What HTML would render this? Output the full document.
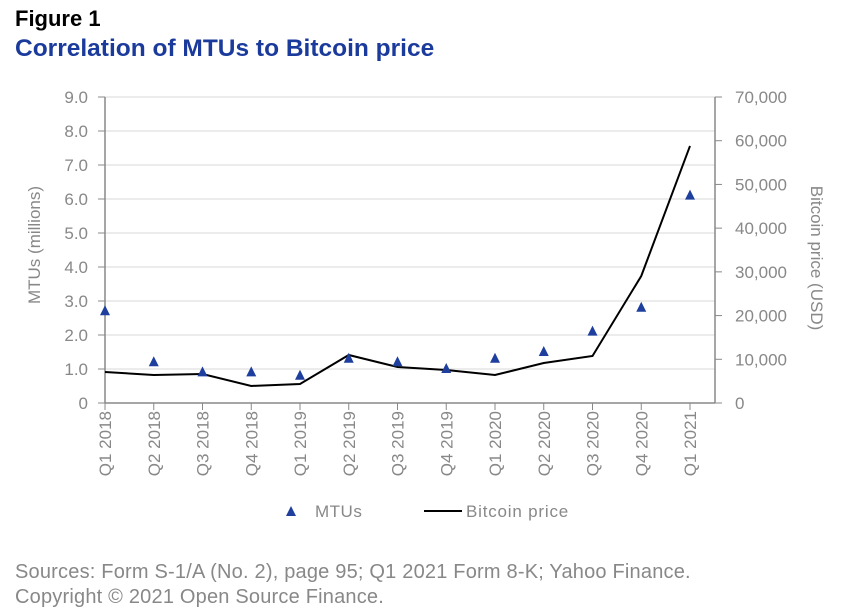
<!DOCTYPE html>
<html><head><meta charset="utf-8"><style>
body{margin:0;background:#fff;width:852px;height:615px;overflow:hidden;font-family:"Liberation Sans",sans-serif}
.t{position:absolute;left:15px;margin:0}
</style></head><body>
<div class="t" style="top:6px;font-size:22px;font-weight:bold;color:#000">Figure 1</div>
<div class="t" style="top:35px;font-size:24.5px;font-weight:bold;color:#1a3a9c">Correlation of MTUs to Bitcoin price</div>
<div class="t" style="top:560px;font-size:20px;color:#888;line-height:25px;letter-spacing:0.2px">Sources: Form S-1/A (No. 2), page 95; Q1 2021 Form 8-K; Yahoo Finance.<br>Copyright © 2021 Open Source Finance.</div>
<svg id="c" width="852" height="615" style="position:absolute;left:0;top:0" font-family="Liberation Sans, sans-serif"></svg>
<script>
const categories=["Q1 2018","Q2 2018","Q3 2018","Q4 2018","Q1 2019","Q2 2019","Q3 2019","Q4 2019","Q1 2020","Q2 2020","Q3 2020","Q4 2020","Q1 2021"];
const mtus=[2.7,1.2,0.9,0.9,0.8,1.3,1.2,1.0,1.3,1.5,2.1,2.8,6.1];
const bitcoin=[7090,6400,6630,3900,4350,10980,8240,7550,6400,9150,10750,29050,58800];
const leftTicks=["0","1.0","2.0","3.0","4.0","5.0","6.0","7.0","8.0","9.0"];
const rightTicks=["0","10,000","20,000","30,000","40,000","50,000","60,000","70,000"];
const svg=document.getElementById('c');const NS="http://www.w3.org/2000/svg";
function mk(t,a,txt){const e=document.createElementNS(NS,t);for(const k in a)e.setAttribute(k,a[k]);if(txt!=null)e.textContent=txt;svg.appendChild(e);return e;}
const X0=105,X1=690,Y0=403,Y1=97;
const x=i=>X0+i*(X1-X0)/(categories.length-1);
const yL=v=>Y0-v/9*(Y0-Y1);
const yR=v=>Y0-v/70000*(Y0-Y1);
leftTicks.forEach((t,i)=>{const yy=yL(i);
 if(i>0){const g=mk('line',{x1:X0,x2:715,y1:yy,y2:yy,stroke:'#d9d9d9','stroke-width':1});}
 mk('line',{x1:98,x2:X0,y1:yy,y2:yy,stroke:'#888'});
 const e=mk('text',{x:88,y:yy+6,'text-anchor':'end','font-size':17,fill:'#888'},t);});
rightTicks.forEach((t,i)=>{const yy=yR(i*10000);
 mk('line',{x1:715,x2:722,y1:yy,y2:yy,stroke:'#888'});
 const e=mk('text',{x:735,y:yy+6,'font-size':17,fill:'#888'},t);});
mk('line',{x1:X0,x2:X0,y1:Y1,y2:Y0,stroke:'#888','stroke-width':1.5});
mk('line',{x1:715,x2:715,y1:Y1,y2:Y0,stroke:'#888','stroke-width':1.5});
mk('line',{x1:X0,x2:715,y1:Y0,y2:Y0,stroke:'#888','stroke-width':1.5});
categories.forEach((c,i)=>{const xx=x(i);
 mk('line',{x1:xx,x2:xx,y1:Y0,y2:Y0+7,stroke:'#888'});
 const e=mk('text',{x:0,y:0,'text-anchor':'end','font-size':17,fill:'#888',transform:`translate(${xx+6},411) rotate(-90)`},c);});
let yt=mk('text',{transform:'translate(40,245) rotate(-90)','text-anchor':'middle','font-size':17,fill:'#888'},'MTUs (millions)');
let yt2=mk('text',{transform:'translate(811,258) rotate(90)','text-anchor':'middle','font-size':17,fill:'#888'},'Bitcoin price (USD)');
const ln=mk('polyline',{points:bitcoin.map((v,i)=>x(i)+','+yR(v)).join(' '),fill:'none',stroke:'#000','stroke-width':2});

mtus.forEach((v,i)=>{const xx=x(i),yy=yL(v);
 const p=mk('polygon',{points:`${xx},${yy-6} ${xx-5},${yy+4} ${xx+5},${yy+4}`,fill:'#1f3f9e'});
 });
const lt=mk('polygon',{points:'291,506 286,516 296,516',fill:'#1f3f9e'});
const l1=mk('text',{x:315,y:517,'font-size':17,fill:'#888','letter-spacing':0.5},'MTUs');
const ll=mk('line',{x1:424,x2:462,y1:511,y2:511,stroke:'#000','stroke-width':2});
const l2=mk('text',{x:466,y:517,'font-size':17,fill:'#888','letter-spacing':0.8},'Bitcoin price');
</script>
</body></html>
